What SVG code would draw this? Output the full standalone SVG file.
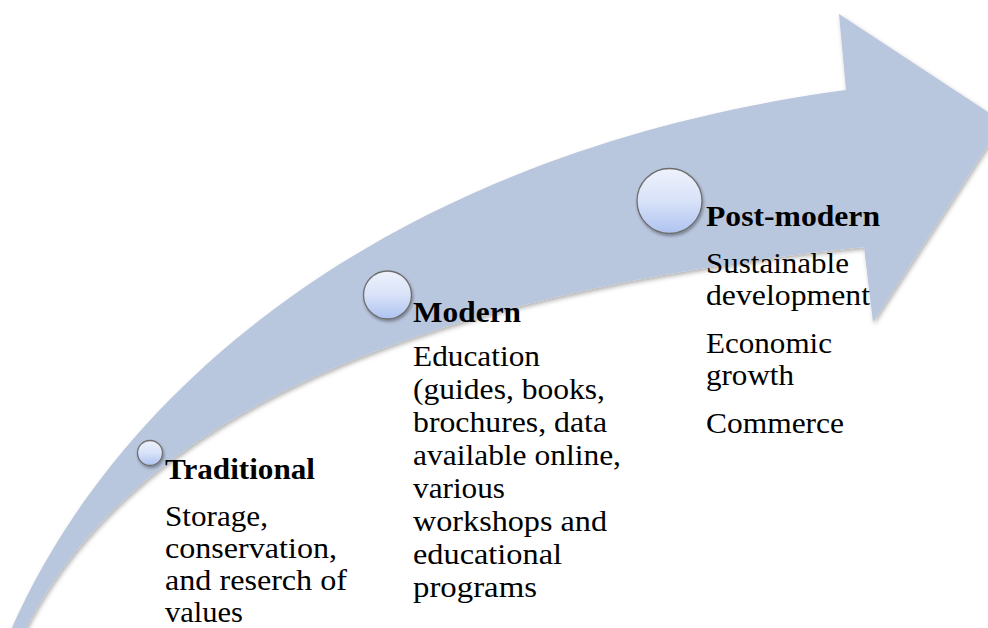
<svg xmlns="http://www.w3.org/2000/svg" width="988" height="628" viewBox="0 0 988 628">
<defs>
  <filter id="sh" x="-10%" y="-10%" width="130%" height="130%">
    <feDropShadow dx="1.5" dy="2.5" stdDeviation="2" flood-color="#000" flood-opacity="0.3"/>
  </filter>
  <filter id="csh" x="-30%" y="-30%" width="160%" height="160%">
    <feDropShadow dx="1" dy="2" stdDeviation="1.5" flood-color="#000" flood-opacity="0.35"/>
  </filter>
  <linearGradient id="cg" x1="0" y1="0" x2="0" y2="1">
    <stop offset="0" stop-color="#eef2fc"/>
    <stop offset="0.5" stop-color="#d8e2f8"/>
    <stop offset="1" stop-color="#aec3f0"/>
  </linearGradient>
  <style>
    .arrow { fill: #b8c6de; }
    .dot { fill: url(#cg); stroke: #6e6e6e; stroke-width: 1.3; }
    .t { font-family: 'Times New Roman', 'Liberation Serif', Times, serif; font-size: 29px; fill: #000; }
    .h { font-weight: bold; }
  </style>
</defs>
<rect width="988" height="628" fill="#fff"/>

<g id="connectors">
  <path class="arrow" filter="url(#sh)" d="M 10 632 C 120 380, 400 150, 846 90 L 839 14 L 1003 122 L 873 322 L 864 247 C 450 290, 140 400, 24 632 Z"/>
</g>

<g id="node-traditional">
  <circle class="dot" filter="url(#csh)" cx="150" cy="453" r="12.5"/>
  <text class="t h" x="165" y="479" textLength="150" lengthAdjust="spacingAndGlyphs">Traditional</text>
  <text class="t" x="165" y="526" textLength="103" lengthAdjust="spacingAndGlyphs">Storage,</text>
  <text class="t" x="165" y="558" textLength="172" lengthAdjust="spacingAndGlyphs">conservation,</text>
  <text class="t" x="165" y="590" textLength="182" lengthAdjust="spacingAndGlyphs">and reserch of</text>
  <text class="t" x="165" y="622" textLength="78" lengthAdjust="spacingAndGlyphs">values</text>
</g>

<g id="node-modern">
  <circle class="dot" filter="url(#csh)" cx="387.5" cy="295" r="24"/>
  <text class="t h" x="413" y="322" textLength="108" lengthAdjust="spacingAndGlyphs">Modern</text>
  <text class="t" x="413" y="366" textLength="127" lengthAdjust="spacingAndGlyphs">Education</text>
  <text class="t" x="413" y="399" textLength="192" lengthAdjust="spacingAndGlyphs">(guides, books,</text>
  <text class="t" x="413" y="432" textLength="194" lengthAdjust="spacingAndGlyphs">brochures, data</text>
  <text class="t" x="413" y="465" textLength="208" lengthAdjust="spacingAndGlyphs">available online,</text>
  <text class="t" x="413" y="498" textLength="92" lengthAdjust="spacingAndGlyphs">various</text>
  <text class="t" x="413" y="531" textLength="194" lengthAdjust="spacingAndGlyphs">workshops and</text>
  <text class="t" x="413" y="564" textLength="149" lengthAdjust="spacingAndGlyphs">educational</text>
  <text class="t" x="413" y="597" textLength="124" lengthAdjust="spacingAndGlyphs">programs</text>
</g>

<g id="node-postmodern">
  <circle class="dot" filter="url(#csh)" cx="669.5" cy="201" r="32.5"/>
  <text class="t h" x="706" y="226" textLength="174" lengthAdjust="spacingAndGlyphs">Post-modern</text>
  <text class="t" x="706" y="273" textLength="143" lengthAdjust="spacingAndGlyphs">Sustainable</text>
  <text class="t" x="706" y="305" textLength="164" lengthAdjust="spacingAndGlyphs">development</text>
  <text class="t" x="706" y="353" textLength="126" lengthAdjust="spacingAndGlyphs">Economic</text>
  <text class="t" x="706" y="385" textLength="88" lengthAdjust="spacingAndGlyphs">growth</text>
  <text class="t" x="706" y="433" textLength="138" lengthAdjust="spacingAndGlyphs">Commerce</text>
</g>
</svg>
